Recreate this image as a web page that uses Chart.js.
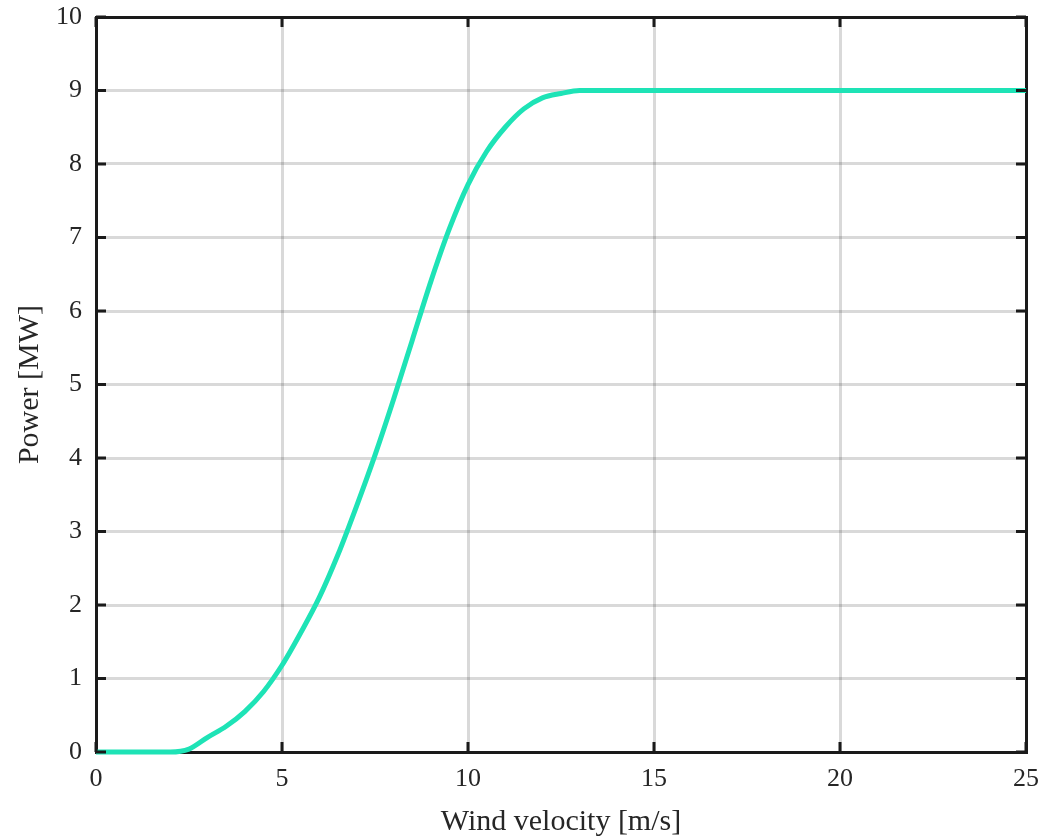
<!DOCTYPE html>
<html>
<head>
<meta charset="utf-8">
<script src="https://cdn.jsdelivr.net/npm/chart.js@4"></script>
<style>
  html, body { margin: 0; padding: 0; background: #fff; }
  #wrap { width: 1049px; height: 840px; }
</style>
</head>
<body>
<div id="wrap"><canvas id="chart" width="1049" height="840"></canvas></div>
<script>
// wind speed [m/s] and power [MW]
const windSpeed = [0, 0.5, 1, 1.5, 2, 2.5, 3, 3.5, 4, 4.5, 5, 5.5, 6, 6.5, 7, 7.5, 8, 8.5, 9, 9.5,
  10, 10.5, 11, 11.5, 12, 12.5, 13, 14, 15, 16, 17, 18, 19, 20, 21, 22, 23, 24, 25];
const power = [0, 0, 0, 0, 0, 0.04, 0.2, 0.35, 0.55, 0.82, 1.18, 1.62, 2.1, 2.68, 3.34, 4.04, 4.8, 5.6, 6.4, 7.12,
  7.72, 8.17, 8.5, 8.75, 8.9, 8.96, 9, 9, 9, 9, 9, 9, 9, 9, 9, 9, 9, 9, 9];

const xTicks = [0, 5, 10, 15, 20, 25];
const yTicks = [0, 1, 2, 3, 4, 5, 6, 7, 8, 9, 10];

const points = windSpeed.map((v, i) => ({ x: v, y: power[i] }));

const fontFamily = '"Liberation Serif", "DejaVu Serif", serif';
const axisColor = '#1a1a1a';
const gridColor = 'rgba(0,0,0,0.15)';

// MATLAB-style inward tick marks on all four sides
const innerTicks = {
  id: 'innerTicks',
  afterDatasetsDraw(chart) {
    const { ctx, chartArea, scales } = chart;
    const len = 10;
    ctx.save();
    ctx.strokeStyle = axisColor;
    ctx.lineWidth = 3;
    ctx.beginPath();
    xTicks.forEach(t => {
      const px = scales.x.getPixelForValue(t);
      ctx.moveTo(px, chartArea.bottom);
      ctx.lineTo(px, chartArea.bottom - len);
      ctx.moveTo(px, chartArea.top);
      ctx.lineTo(px, chartArea.top + len);
    });
    yTicks.forEach(t => {
      const py = scales.y.getPixelForValue(t);
      ctx.moveTo(chartArea.left, py);
      ctx.lineTo(chartArea.left + len, py);
      ctx.moveTo(chartArea.right, py);
      ctx.lineTo(chartArea.right - len, py);
    });
    ctx.stroke();
    ctx.restore();
  }
};

// fixed box sizes so the plot area sits where the reference has it
const fixH = h => s => { s.height = h; s.paddingLeft = 0; s.paddingRight = 0; };
const fixW = w => s => { s.width = w; s.paddingTop = 0; s.paddingBottom = 0; };

new Chart(document.getElementById('chart'), {
  type: 'scatter',
  data: {
    datasets: [{
      data: points,
      showLine: true,
      borderColor: '#1ee3b6',
      borderWidth: 5,
      pointRadius: 0,
      cubicInterpolationMode: 'monotone',
      clip: false
    }]
  },
  options: {
    responsive: false,
    animation: false,
    layout: { padding: 0 },
    plugins: {
      legend: { display: false },
      tooltip: { enabled: false }
    },
    scales: {
      x: {
        type: 'linear',
        position: 'bottom',
        min: 0,
        max: 25,
        afterBuildTicks: s => { s.ticks = xTicks.map(v => ({ value: v })); },
        afterFit: fixH(88),
        grid: { color: gridColor, lineWidth: 3, drawTicks: false },
        border: { color: axisColor, width: 3 },
        ticks: { color: '#262626', padding: 12, font: { family: fontFamily, size: 26 } },
        title: {
          display: true,
          text: 'Wind velocity [m/s]',
          color: '#262626',
          padding: { top: 2, bottom: 0 },
          font: { family: fontFamily, size: 30 }
        }
      },
      x2: {
        type: 'linear',
        position: 'top',
        min: 0,
        max: 25,
        afterFit: fixH(17),
        grid: { display: false },
        border: { color: axisColor, width: 3 },
        ticks: { display: false }
      },
      y: {
        type: 'linear',
        position: 'left',
        min: 0,
        max: 10,
        afterBuildTicks: s => { s.ticks = yTicks.map(v => ({ value: v })); },
        afterFit: fixW(96),
        grid: { color: gridColor, lineWidth: 3, drawTicks: false },
        border: { color: axisColor, width: 3 },
        ticks: { color: '#262626', padding: 14, font: { family: fontFamily, size: 26 } },
        title: {
          display: true,
          text: 'Power [MW]',
          color: '#262626',
          padding: { top: 12, bottom: 0 },
          font: { family: fontFamily, size: 30 }
        }
      },
      y2: {
        type: 'linear',
        position: 'right',
        min: 0,
        max: 10,
        afterFit: fixW(23),
        grid: { display: false },
        border: { color: axisColor, width: 3 },
        ticks: { display: false }
      }
    }
  },
  plugins: [innerTicks]
});
</script>
</body>
</html>
